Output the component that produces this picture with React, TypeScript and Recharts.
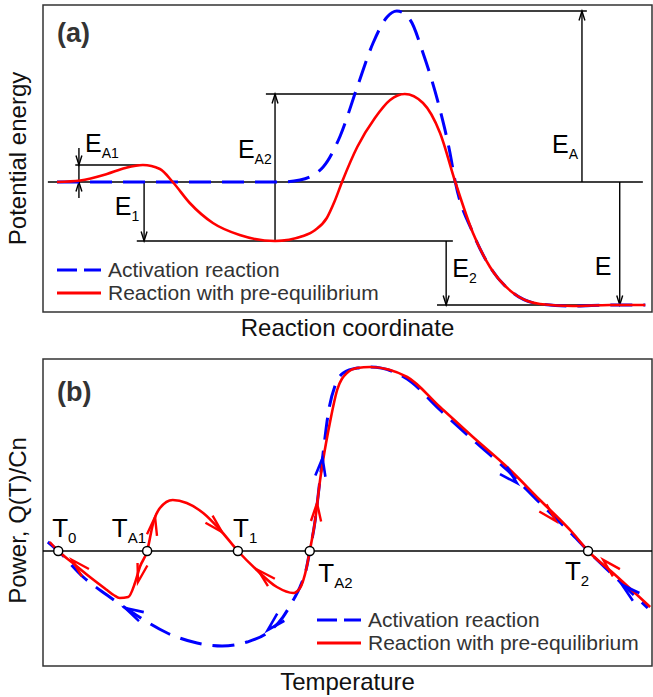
import React from 'react';
import {
  LineChart,
  Line,
  XAxis,
  YAxis,
  ReferenceLine,
  ReferenceDot,
  ReferenceArea,
  Legend,
} from 'recharts';

// ============================================================================
// Data
// ============================================================================

const FONT = '"Liberation Sans", Arial, Helvetica, sans-serif';
const BLUE = '#0000ff';
const RED = '#ff0000';

const SERIES_NAMES = ['Activation reaction', 'Reaction with pre-equilibrium'];

// (a) potential energy vs reaction coordinate
const coordActivation = [0.23, 1.5, 3.0, 3.89, 4.22, 4.6, 4.88, 5.16, 5.42, 5.65, 5.81, 6.03, 6.24, 6.52, 6.68, 6.77, 7.06, 7.34, 7.72, 8.16, 8.7, 9.31, 9.89];
const energyActivation = [0, 0, 0, 0, 0.02, 0.15, 0.46, 0.95, 1.39, 1.65, 1.71, 1.62, 1.29, 0.72, 0.3, 0, -0.51, -0.85, -1.11, -1.22, -1.24, -1.23, -1.23];

const coordPreEq = [0.23, 0.61, 1.05, 1.35, 1.64, 1.92, 2.13, 2.41, 2.79, 3.23, 3.81, 4.27, 4.47, 4.66, 4.79, 4.91, 5.16, 5.45, 5.7, 5.94, 6.24, 6.52, 6.77, 7.06, 7.34, 7.72, 8.16, 8.7, 9.31, 9.89];
const energyPreEq = [0, 0.015, 0.08, 0.14, 0.17, 0.13, 0, -0.21, -0.41, -0.53, -0.59, -0.54, -0.48, -0.36, -0.19, 0, 0.35, 0.64, 0.82, 0.88, 0.79, 0.49, 0, -0.51, -0.85, -1.11, -1.22, -1.24, -1.23, -1.23];

// energy levels (horizontal guide lines) and the arrows between them
const levelsA = [
  { from: 0.08, to: 9.85, y: 0 },
  { from: 0.53, to: 1.64, y: 0.17 },
  { from: 1.54, to: 6.73, y: -0.59 },
  { from: 3.66, to: 5.94, y: 0.88 },
  { from: 5.81, to: 8.93, y: 1.71 },
  { from: 6.47, to: 9.85, y: -1.23 },
];
const gapsA = [
  { x: 0.59, from: 0.34, to: 0.17 },
  { x: 0.59, from: -0.16, to: 0 },
  { x: 1.66, from: 0, to: -0.59 },
  { x: 3.81, from: -0.59, to: 0.88 },
  { x: 8.85, from: 0, to: 1.71 },
  { x: 9.47, from: 0, to: -1.23 },
  { x: 6.62, from: -0.59, to: -1.23 },
];
const labelsA = [
  { main: 'E', sub: 'A1', x: 0.69, y: 0.3 },
  { main: 'E', sub: '1', x: 1.18, y: -0.33 },
  { main: 'E', sub: 'A2', x: 3.2, y: 0.24 },
  { main: 'E', sub: 'A', x: 8.36, y: 0.29 },
  { main: 'E', sub: '', x: 9.06, y: -0.93 },
  { main: 'E', sub: '2', x: 6.72, y: -0.95 },
];

// (b) power vs temperature
const tempActivation = [0.08, 0.25, 0.66, 1.05, 1.48, 2.04, 2.53, 2.94, 3.35, 3.68, 3.94, 4.11, 4.22, 4.33, 4.38, 4.47, 4.53, 4.6, 4.69, 4.8, 4.93, 5.16, 5.37, 5.98, 6.52, 7.06, 7.62, 8.16, 8.7, 8.95, 9.36, 9.93];
const powerActivation = [0.09, 0, -0.26, -0.44, -0.62, -0.82, -0.92, -0.95, -0.91, -0.82, -0.66, -0.49, -0.36, -0.16, 0, 0.31, 0.62, 0.98, 1.4, 1.66, 1.78, 1.83, 1.84, 1.72, 1.41, 1.11, 0.81, 0.48, 0.16, 0, -0.24, -0.57];

const tempPreEq = [0.11, 0.25, 0.49, 0.77, 1.05, 1.16, 1.26, 1.4, 1.51, 1.59, 1.71, 1.81, 1.92, 2.13, 2.36, 2.63, 2.91, 3.2, 3.51, 3.84, 4.11, 4.22, 4.33, 4.38, 4.47, 4.55, 4.6, 4.71, 4.83, 4.99, 5.16, 5.37, 5.98, 6.52, 7.06, 7.62, 8.16, 8.7, 8.95, 9.36, 9.97];
const powerPreEq = [0.09, 0, -0.12, -0.26, -0.39, -0.44, -0.47, -0.46, -0.32, -0.16, 0, 0.28, 0.43, 0.51, 0.48, 0.38, 0.21, 0, -0.19, -0.36, -0.42, -0.37, -0.16, 0, 0.31, 0.71, 0.91, 1.28, 1.61, 1.78, 1.83, 1.84, 1.74, 1.44, 1.14, 0.84, 0.51, 0.18, 0, -0.22, -0.56];

// fixed points on Q(T)/Cn = 0
const fixedPoints = [
  { name: 'T', sub: '0', t: 0.25, lx: 0.15, ly: 0.14 },
  { name: 'T', sub: 'A1', t: 1.71, lx: 1.13, ly: 0.14 },
  { name: 'T', sub: '1', t: 3.2, lx: 3.12, ly: 0.14 },
  { name: 'T', sub: 'A2', t: 4.38, lx: 4.52, ly: -0.31 },
  { name: 'T', sub: '2', t: 8.95, lx: 8.57, ly: -0.29 },
];

// direction arrows on the curves: tail -> tip
const flowPreEq = [
  [0.77, -0.26, 0.48, -0.09],
  [1.79, 0.16, 1.84, 0.34],
  [1.63, -0.14, 1.56, -0.31],
  [2.69, 0.34, 2.94, 0.19],
  [3.76, -0.32, 3.53, -0.19],
  [4.48, 0.26, 4.5, 0.48],
  [8.16, 0.46, 8.42, 0.3],
  [9.47, -0.25, 9.2, -0.09],
];
const flowActivation = [
  [1.72, -0.69, 1.35, -0.57],
  [3.94, -0.64, 3.69, -0.79],
  [4.52, 0.57, 4.59, 0.93],
  [7.5, 0.84, 7.78, 0.68],
  [9.8, -0.49, 9.51, -0.34],
];

const toPoints = (xs: number[], ys: number[]) => xs.map((x, i) => ({ x, y: ys[i] }));

// ============================================================================
// Helpers
// ============================================================================

function arrowShape(len: number, half: number, color: string, width: number, withLine: boolean) {
  return (props: any) => {
    const { x1, y1, x2, y2 } = props;
    const dx = x2 - x1;
    const dy = y2 - y1;
    const d = Math.hypot(dx, dy) || 1;
    const bx = -dx / d;
    const by = -dy / d;
    const c = Math.cos(half);
    const s = Math.sin(half);
    const w1x = x2 + len * (bx * c - by * s);
    const w1y = y2 + len * (bx * s + by * c);
    const w2x = x2 + len * (bx * c + by * s);
    const w2y = y2 + len * (-bx * s + by * c);
    return (
      <g>
        {withLine && <line x1={x1} y1={y1} x2={x2} y2={y2} stroke={color} strokeWidth={width} />}
        <path
          d={`M${w1x},${w1y}L${x2},${y2}L${w2x},${w2y}`}
          fill="none"
          stroke={color}
          strokeWidth={width}
          strokeLinejoin="miter"
        />
      </g>
    );
  };
}

function textShape(main: string, sub: string, size: number, subSize: number, bold = false, color = '#000') {
  return (props: any) => (
    <text
      x={props.cx}
      y={props.cy}
      fontFamily={FONT}
      fontSize={size}
      fontWeight={bold ? 'bold' : 'normal'}
      fill={color}
    >
      {main}
      {sub && (
        <tspan fontSize={subSize} dy={6}>
          {sub}
        </tspan>
      )}
    </text>
  );
}

const yTitle = (text: string, shift: number) => (props: any) => {
  const vb = props.viewBox;
  const cx = vb.x + 26;
  const cy = vb.y + vb.height / 2 + shift;
  return (
    <text
      x={cx}
      y={cy}
      transform={`rotate(-90 ${cx} ${cy})`}
      textAnchor="middle"
      fontFamily={FONT}
      fontSize={24}
      fill="#111"
    >
      {text}
    </text>
  );
};

const xTitle = (text: string, dy: number) => (props: any) => {
  const vb = props.viewBox;
  return (
    <text
      x={vb.x + vb.width / 2}
      y={vb.y + dy}
      textAnchor="middle"
      fontFamily={FONT}
      fontSize={24}
      fill="#111"
    >
      {text}
    </text>
  );
};

const LegendBox = () => (
  <div style={{ fontFamily: FONT, fontSize: 21, color: '#333', lineHeight: '23px' }}>
    {SERIES_NAMES.map((name, i) => (
      <div key={name} style={{ display: 'flex', alignItems: 'center', whiteSpace: 'nowrap', height: 23 }}>
        <svg width={44} height={23}>
          <line
            x1={0}
            y1={12}
            x2={44}
            y2={12}
            stroke={i === 0 ? BLUE : RED}
            strokeWidth={3}
            strokeDasharray={i === 0 ? '20 7' : undefined}
          />
        </svg>
        <span style={{ marginLeft: 7 }}>{name}</span>
      </div>
    ))}
  </div>
);

// ============================================================================
// Panels
// ============================================================================

const W = 653;
const X_DOMAIN: [number, number] = [0, 10];
const A_DOMAIN: [number, number] = [-1.3, 1.77];
const B_DOMAIN: [number, number] = [-1.15, 1.92];

function PanelA() {
  return (
    <LineChart width={W} height={340} margin={{ top: 5, right: 1, bottom: 0, left: 0 }}>
      <XAxis
        type="number"
        dataKey="x"
        domain={X_DOMAIN}
        allowDataOverflow
        tick={false}
        tickLine={false}
        axisLine={false}
        height={28}
        label={xTitle('Reaction coordinate', 24)}
      />
      <YAxis
        type="number"
        domain={A_DOMAIN}
        allowDataOverflow
        tick={false}
        tickLine={false}
        axisLine={false}
        width={43}
        label={yTitle('Potential energy', 0)}
      />
      <ReferenceArea
        x1={X_DOMAIN[0]}
        x2={X_DOMAIN[1]}
        y1={A_DOMAIN[0]}
        y2={A_DOMAIN[1]}
        fill="none"
        stroke="#333"
        strokeWidth={1.5}
      />
      {levelsA.map((l, i) => (
        <ReferenceLine
          key={`lv${i}`}
          segment={[{ x: l.from, y: l.y }, { x: l.to, y: l.y }]}
          stroke="#000"
          strokeWidth={1.4}
        />
      ))}
      <ReferenceLine segment={[{ x: 0.59, y: 0.17 }, { x: 0.59, y: 0 }]} stroke="#000" strokeWidth={1.4} />
      {gapsA.map((g, i) => (
        <ReferenceLine
          key={`gp${i}`}
          segment={[{ x: g.x, y: g.from }, { x: g.x, y: g.to }]}
          shape={arrowShape(10, 0.3, '#000', 1.4, true)}
        />
      ))}
      <Line
        data={toPoints(coordActivation, energyActivation)}
        dataKey="y"
        type="monotone"
        stroke={BLUE}
        strokeWidth={3}
        strokeDasharray="22 11"
        dot={false}
        isAnimationActive={false}
        name={SERIES_NAMES[0]}
      />
      <Line
        data={toPoints(coordPreEq, energyPreEq)}
        dataKey="y"
        type="monotone"
        stroke={RED}
        strokeWidth={2.6}
        dot={false}
        isAnimationActive={false}
        name={SERIES_NAMES[1]}
      />
      {labelsA.map((l, i) => (
        <ReferenceDot key={`la${i}`} x={l.x} y={l.y} r={0} shape={textShape(l.main, l.sub, 25, 14)} />
      ))}
      <ReferenceDot x={0.23} y={1.405} r={0} shape={textShape('(a)', '', 27, 0, true, '#333')} />
      <Legend
        layout="vertical"
        align="center"
        verticalAlign="middle"
        content={<LegendBox />}
        wrapperStyle={{ left: 57, top: 258, width: 'auto', height: 'auto' }}
      />
    </LineChart>
  );
}

function PanelB() {
  return (
    <LineChart width={W} height={357} margin={{ top: 19, right: 1, bottom: 0, left: 0 }}>
      <XAxis
        type="number"
        dataKey="x"
        domain={X_DOMAIN}
        allowDataOverflow
        tick={false}
        tickLine={false}
        axisLine={false}
        height={31}
        label={xTitle('Temperature', 24)}
      />
      <YAxis
        type="number"
        domain={B_DOMAIN}
        allowDataOverflow
        tick={false}
        tickLine={false}
        axisLine={false}
        width={43}
        label={yTitle('Power, Q(T)/Cn', 8)}
      />
      <ReferenceArea
        x1={X_DOMAIN[0]}
        x2={X_DOMAIN[1]}
        y1={B_DOMAIN[0]}
        y2={B_DOMAIN[1]}
        fill="none"
        stroke="#333"
        strokeWidth={1.5}
      />
      <ReferenceLine y={0} stroke="#000" strokeWidth={1.5} />
      <Line
        data={toPoints(tempActivation, powerActivation)}
        dataKey="y"
        type="monotone"
        stroke={BLUE}
        strokeWidth={3}
        strokeDasharray="22 11"
        dot={false}
        isAnimationActive={false}
        name={SERIES_NAMES[0]}
      />
      <Line
        data={toPoints(tempPreEq, powerPreEq)}
        dataKey="y"
        type="monotone"
        stroke={RED}
        strokeWidth={2.6}
        dot={false}
        isAnimationActive={false}
        name={SERIES_NAMES[1]}
      />
      {flowActivation.map((f, i) => (
        <ReferenceLine
          key={`fa${i}`}
          segment={[{ x: f[0], y: f[1] }, { x: f[2], y: f[3] }]}
          shape={arrowShape(19, 0.27, BLUE, 2.6, false)}
        />
      ))}
      {flowPreEq.map((f, i) => (
        <ReferenceLine
          key={`fr${i}`}
          segment={[{ x: f[0], y: f[1] }, { x: f[2], y: f[3] }]}
          shape={arrowShape(19, 0.27, RED, 2.4, false)}
        />
      ))}
      {fixedPoints.map((p) => (
        <ReferenceDot
          key={`fp${p.sub}`}
          x={p.t}
          y={0}
          r={4.5}
          fill="#fff"
          stroke="#000"
          strokeWidth={1.5}
        />
      ))}
      {fixedPoints.map((p) => (
        <ReferenceDot
          key={`fl${p.sub}`}
          x={p.lx}
          y={p.ly}
          r={0}
          shape={textShape(p.name, p.sub, 26, 15)}
        />
      ))}
      <ReferenceDot x={0.23} y={1.5} r={0} shape={textShape('(b)', '', 27, 0, true, '#333')} />
      <Legend
        layout="vertical"
        align="center"
        verticalAlign="middle"
        content={<LegendBox />}
        wrapperStyle={{ left: 317, top: 268, width: 'auto', height: 'auto' }}
      />
    </LineChart>
  );
}

export default function App() {
  return (
    <div style={{ position: 'absolute', left: 0, top: 0, width: W, height: 697, background: '#fff' }}>
      <div style={{ position: 'absolute', left: 0, top: 0 }}>
        <PanelA />
      </div>
      <div style={{ position: 'absolute', left: 0, top: 340 }}>
        <PanelB />
      </div>
    </div>
  );
}
